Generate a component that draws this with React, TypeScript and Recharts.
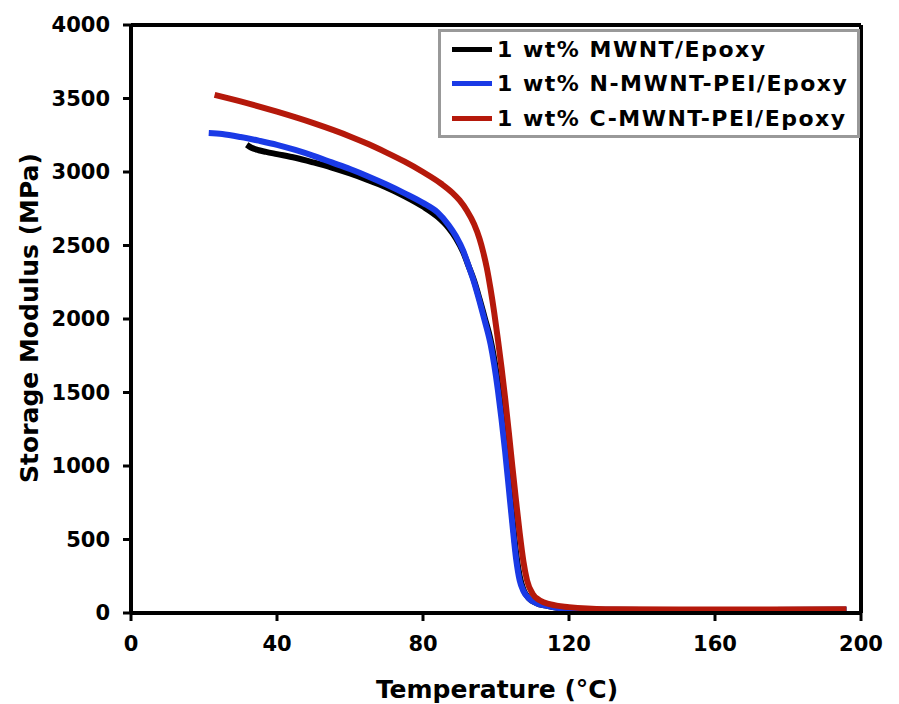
import React from 'react';
import { LineChart, Line, XAxis, YAxis, ReferenceLine, Legend } from 'recharts';

// Temperature (°C) / Storage modulus (MPa) for each sample
const mwntT = [31.7, 33, 35, 37, 40, 45, 50, 55, 60, 65, 70, 75, 80, 84, 87, 89, 91, 92.5, 94, 95.5, 97, 98.5, 99.5, 100.5, 101.5, 102.5, 103.5, 104.5, 105.5, 106.5, 107.5, 109, 111, 114, 118, 125, 150, 175, 196];
const mwntE = [3185, 3165, 3148, 3137, 3122, 3097, 3065, 3030, 2990, 2945, 2895, 2835, 2765, 2695, 2620, 2550, 2455, 2360, 2260, 2135, 2000, 1860, 1730, 1570, 1390, 1160, 910, 650, 410, 250, 160, 100, 68, 48, 30, 22, 20, 20, 22];

const nT = [21.3, 25, 30, 35, 40, 45, 50, 55, 60, 65, 70, 75, 80, 84, 87, 89, 91, 92.5, 94, 95.5, 97, 98.5, 99.5, 100.5, 101.5, 102.5, 103.5, 104.5, 105.5, 106.5, 107.5, 109, 111, 114, 118, 125, 150, 175, 196];
const nE = [3265, 3258, 3238, 3213, 3185, 3150, 3110, 3065, 3020, 2970, 2915, 2855, 2790, 2725, 2640, 2565, 2465, 2360, 2250, 2120, 1980, 1830, 1690, 1520, 1320, 1100, 850, 600, 370, 220, 150, 100, 68, 48, 30, 22, 20, 20, 22];

const cT = [22.9, 30, 40, 50, 60, 65, 70, 75, 80, 85, 88, 90, 92, 94, 95.5, 96.5, 97.5, 98.5, 99.5, 100.5, 101.5, 102.5, 103.5, 104.5, 105.5, 106.5, 107.5, 108.5, 110, 112, 115, 120, 125, 130, 150, 175, 196];
const cE = [3525, 3480, 3410, 3332, 3242, 3190, 3132, 3070, 3000, 2920, 2860, 2808, 2738, 2645, 2545, 2455, 2345, 2205, 2045, 1865, 1672, 1462, 1232, 992, 762, 542, 352, 222, 132, 86, 58, 40, 30, 26, 24, 24, 25];

const xTicks = [0, 40, 80, 120, 160, 200];
const yTicks = [0, 500, 1000, 1500, 2000, 2500, 3000, 3500, 4000];

const seriesNames = ['1 wt% MWNT/Epoxy', '1 wt% N-MWNT-PEI/Epoxy', '1 wt% C-MWNT-PEI/Epoxy'];
const seriesColors = ['#000000', '#1a3ae6', '#b5190b'];

const toPoints = (t: number[], e: number[]) => t.map((x, i) => ({ t: x, e: e[i] }));

const FONT = '"DejaVu Sans", Verdana, sans-serif';

const tickStyle = { fontFamily: FONT, fontWeight: 'bold' as const, fontSize: 21, fill: '#000' };

const renderLegend = () => (
  <div
    style={{
      border: '3px solid #999',
      background: '#fff',
      width: 422,
      height: 109,
      boxSizing: 'border-box',
      paddingLeft: 11,
      paddingTop: 0,
      fontFamily: FONT,
      fontWeight: 'bold',
      fontSize: 22,
      color: '#000',
      letterSpacing: 1.5,
    }}
  >
    {seriesNames.map((name, i) => (
      <div key={name} style={{ display: 'flex', alignItems: 'center', height: 34.5, whiteSpace: 'nowrap' }}>
        <span style={{ display: 'inline-block', width: 40, height: 5, background: seriesColors[i], marginRight: 5 }} />
        <span>{name}</span>
      </div>
    ))}
  </div>
);

const YTitle = () => (
  <text
    x={29}
    y={318}
    transform="rotate(-90 29 318)"
    textAnchor="middle"
    dominantBaseline="central"
    style={{ fontFamily: FONT, fontWeight: 'bold', fontSize: 25, fill: '#000' }}
  >
    Storage Modulus (MPa)
  </text>
);

const XTitle = () => (
  <text
    x={497}
    y={698}
    textAnchor="middle"
    style={{ fontFamily: FONT, fontWeight: 'bold', fontSize: 25, fill: '#000' }}
  >
    Temperature (°C)
  </text>
);

export default function App() {
  return (
    <div style={{ position: 'absolute', left: 0, top: 0, width: 899, height: 704, background: '#fff' }}>
      <LineChart width={899} height={704} margin={{ top: 25, right: 38, bottom: 0, left: 0 }}>
        <XAxis
          type="number"
          dataKey="t"
          domain={[0, 200]}
          ticks={xTicks}
          height={91}
          axisLine={{ stroke: '#000', strokeWidth: 4 }}
          tickLine={{ stroke: '#000', strokeWidth: 3 }}
          tickSize={8}
          tickMargin={15}
          tick={tickStyle}
          label={<XTitle />}
          allowDataOverflow
        />
        <YAxis
          type="number"
          dataKey="e"
          domain={[0, 4000]}
          ticks={yTicks}
          width={131}
          axisLine={{ stroke: '#000', strokeWidth: 4 }}
          tickLine={{ stroke: '#000', strokeWidth: 3 }}
          tickSize={8}
          tickMargin={13}
          tick={tickStyle}
          label={<YTitle />}
          allowDataOverflow
        />
        <ReferenceLine y={4000} stroke="#000" strokeWidth={4} ifOverflow="visible" />
        <ReferenceLine x={200} stroke="#000" strokeWidth={4} ifOverflow="visible" />
        <Line
          data={toPoints(mwntT, mwntE)}
          dataKey="e"
          name={seriesNames[0]}
          type="monotone"
          stroke={seriesColors[0]}
          strokeWidth={6}
          dot={false}
          isAnimationActive={false}
        />
        <Line
          data={toPoints(nT, nE)}
          dataKey="e"
          name={seriesNames[1]}
          type="monotone"
          stroke={seriesColors[1]}
          strokeWidth={6}
          dot={false}
          isAnimationActive={false}
        />
        <Line
          data={toPoints(cT, cE)}
          dataKey="e"
          name={seriesNames[2]}
          type="monotone"
          stroke={seriesColors[2]}
          strokeWidth={6}
          dot={false}
          isAnimationActive={false}
        />
        <Legend
          layout="vertical"
          align="center"
          verticalAlign="middle"
          content={renderLegend}
          wrapperStyle={{ left: 438, top: 29, width: 422, height: 109, right: 'auto', bottom: 'auto' }}
        />
      </LineChart>
    </div>
  );
}
